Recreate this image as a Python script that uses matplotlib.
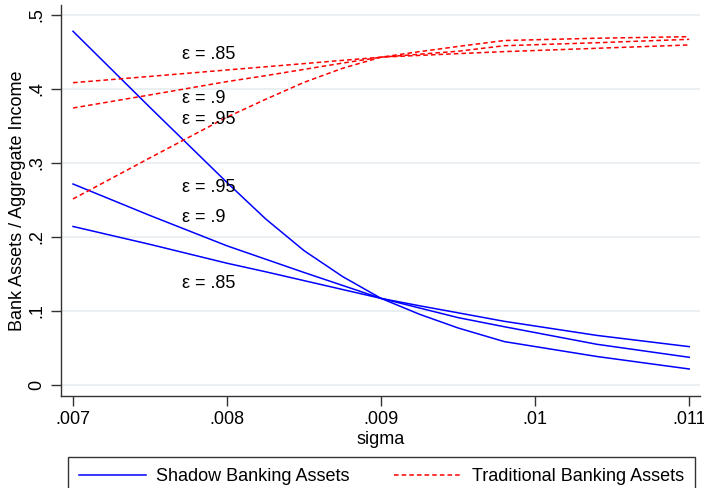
import matplotlib
matplotlib.use("Agg")
import matplotlib.pyplot as plt
from matplotlib.lines import Line2D

plt.rcParams["font.family"] = ["Liberation Sans", "DejaVu Sans"]

# sigma grid and bank assets / aggregate income for each epsilon
sigma = [0.007, 0.0075, 0.008, 0.00825, 0.0085, 0.00875, 0.009, 0.00925,
         0.0095, 0.0098, 0.0104, 0.011]

shadow_085 = [0.2142, 0.190, 0.1645, 0.153, 0.141, 0.129, 0.117, 0.107,
              0.0975, 0.086, 0.067, 0.0518]
shadow_090 = [0.2716, 0.229, 0.188, 0.170, 0.152, 0.1345, 0.117, 0.104,
              0.091, 0.0787, 0.055, 0.0374]
shadow_095 = [0.478, 0.375, 0.2735, 0.2245, 0.1815, 0.1465, 0.117, 0.0955,
              0.077, 0.0586, 0.0385, 0.0216]

trad_085 = [0.4085, 0.417, 0.4257, 0.430, 0.4343, 0.4387, 0.443, 0.4454,
            0.4478, 0.4505, 0.455, 0.4595]
trad_090 = [0.3743, 0.392, 0.410, 0.418, 0.4265, 0.435, 0.443, 0.447,
            0.451, 0.4585, 0.4625, 0.4671]
trad_095 = [0.2514, 0.307, 0.362, 0.386, 0.409, 0.428, 0.443, 0.4505,
            0.4575, 0.4655, 0.4686, 0.4707]

# curve labels: (text, sigma, value)
labels = [
    ("\u03b5 = .85", 0.00771, 0.447),
    ("\u03b5 = .9", 0.00771, 0.387),
    ("\u03b5 = .95", 0.00771, 0.359),
    ("\u03b5 = .95", 0.00771, 0.267),
    ("\u03b5 = .9", 0.00771, 0.227),
    ("\u03b5 = .85", 0.00771, 0.137),
]

xticks = [0.007, 0.008, 0.009, 0.010, 0.011]
xticklabels = [".007", ".008", ".009", ".01", ".011"]
yticks = [0, 0.1, 0.2, 0.3, 0.4, 0.5]
yticklabels = ["0", ".1", ".2", ".3", ".4", ".5"]

BLUE = "#0000ff"
RED = "#ff0000"
FS = 13

fig = plt.figure(figsize=(7.04, 4.88), dpi=100)
ax = fig.add_axes([61 / 704, 92 / 488, 639 / 704, 391 / 488])

for ys in (shadow_095, shadow_090, shadow_085):
    ax.plot(sigma, ys, color=BLUE, lw=1.1, zorder=3)
for ys in (trad_085, trad_090, trad_095):
    ax.plot(sigma, ys, color=RED, lw=1.1, dashes=(3, 2), zorder=3)

for txt, x, y in labels:
    ax.text(x, y, txt, fontsize=FS, ha="left", va="center", zorder=4)

ax.set_xlim(0.006922, 0.01107)
ax.set_ylim(-0.0149, 0.5135)
ax.set_xticks(xticks)
ax.set_xticklabels(xticklabels, fontsize=FS)
ax.set_yticks(yticks)
ax.set_yticklabels(yticklabels, fontsize=FS, rotation=90, va="center")

ax.grid(axis="y", color="#e6edf0", lw=1.2, zorder=0)
ax.grid(axis="x", visible=False)
ax.set_axisbelow(True)
for side in ("top", "right"):
    ax.spines[side].set_visible(False)
for side in ("left", "bottom"):
    ax.spines[side].set_color("#333333")
    ax.spines[side].set_linewidth(1.0)
ax.tick_params(axis="both", color="#333333", length=7, width=1.0, pad=4)
ax.tick_params(axis="y", pad=4)

ax.set_xlabel("sigma", fontsize=FS, labelpad=2)
ax.set_ylabel("Bank Assets / Aggregate Income", fontsize=FS, labelpad=2)

handles = [
    Line2D([], [], color=BLUE, lw=1.1),
    Line2D([], [], color=RED, lw=1.1, dashes=(3, 2)),
]
leg = fig.legend(
    handles, ["Shadow Banking Assets", "Traditional Banking Assets"],
    loc="upper left", bbox_to_anchor=(68 / 704, 31 / 488, 627 / 704, 0.0),
    mode="expand", ncol=2, fontsize=FS, frameon=True, fancybox=False,
    handlelength=3.7, handletextpad=0.6, borderpad=0.6, borderaxespad=0.0,
)
leg.get_frame().set_edgecolor("black")
leg.get_frame().set_linewidth(1.0)

fig.savefig("out.png", dpi=100)
